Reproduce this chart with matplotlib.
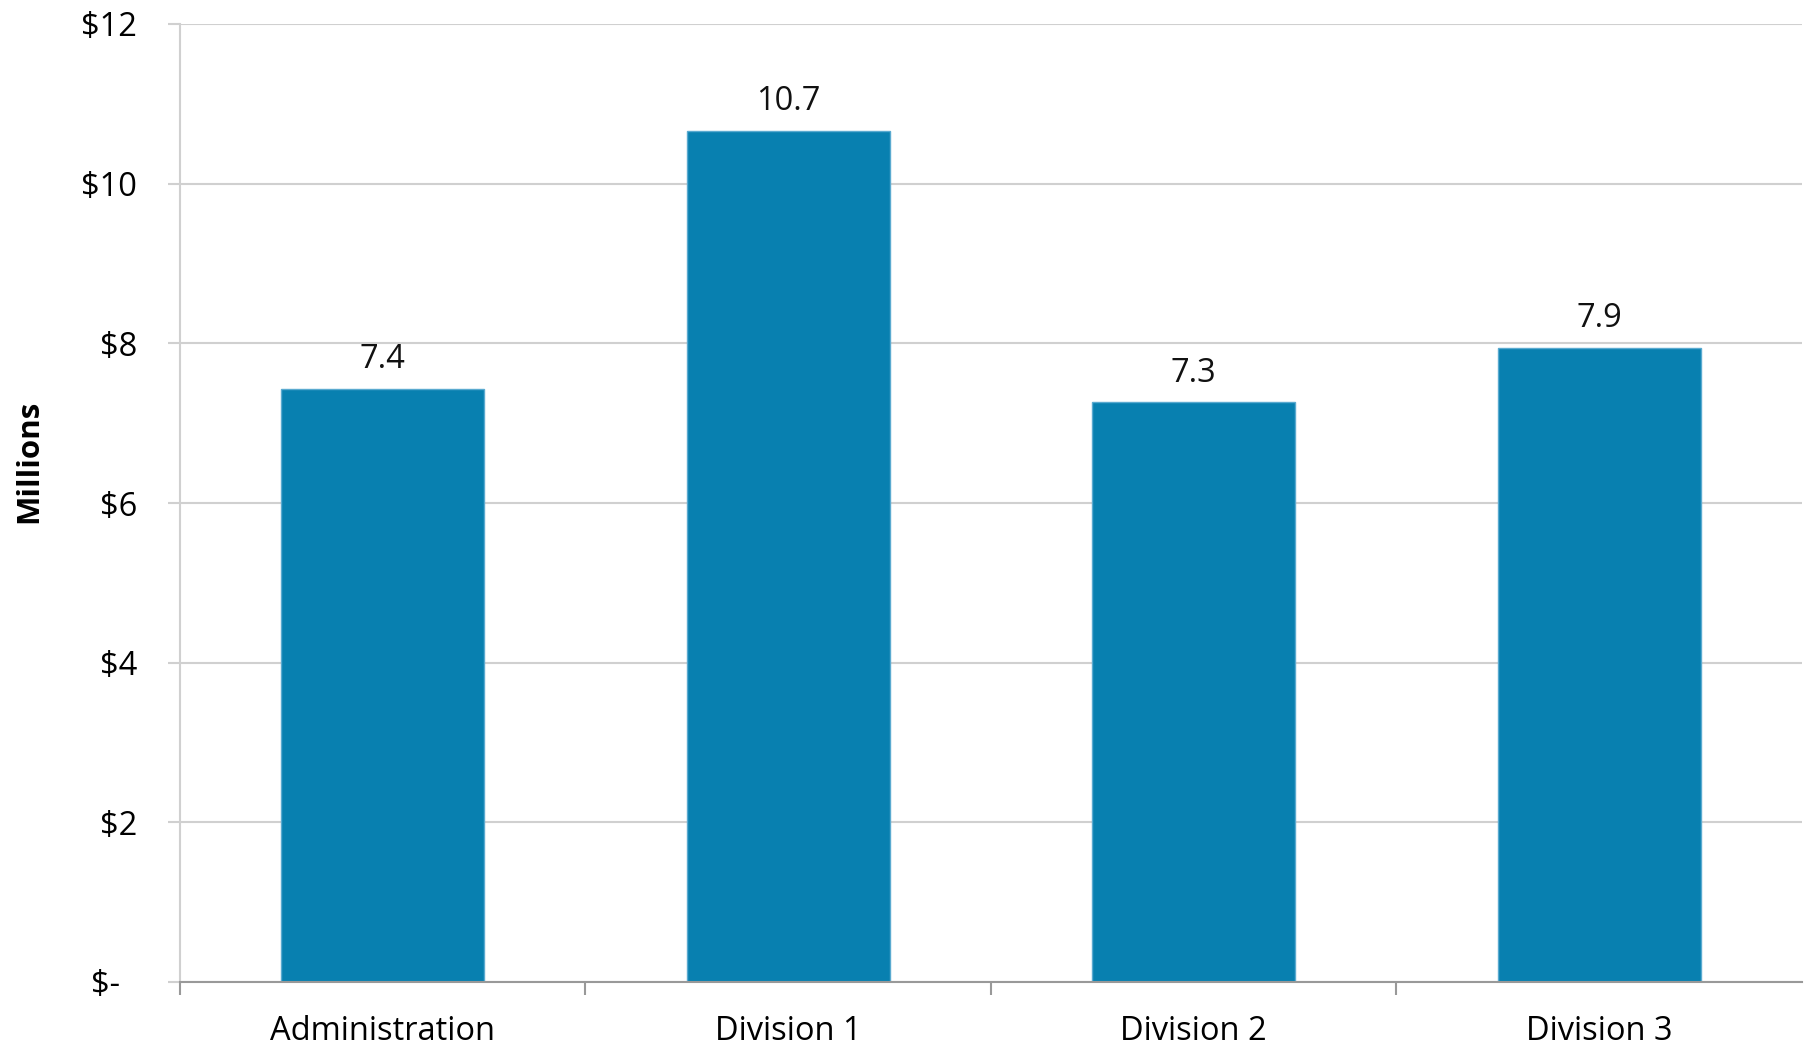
import matplotlib.pyplot as plt
from matplotlib.ticker import FixedLocator

categories = ["Administration", "Division 1", "Division 2", "Division 3"]
values = [7.43, 10.66, 7.26, 7.94]
labels = ["7.4", "10.7", "7.3", "7.9"]
yticks = [0, 2, 4, 6, 8, 10, 12]
ytick_labels = ["$-  ", "$2", "$4", "$6", "$8", "$10", "$12"]

plt.rcParams['font.family'] = ['Open Sans', 'DejaVu Sans']

fig = plt.figure(figsize=(18.08, 10.48), dpi=100)
ax = fig.add_axes([180 / 1808, 1 - 982 / 1048, (1802 - 180) / 1808, (982 - 24) / 1048])

x = range(len(categories))
ax.bar(x, values, width=0.5, color="#0880B0", edgecolor="#5AAAD0", linewidth=1.0, zorder=3)

for i, v in enumerate(values):
    ax.annotate(labels[i], (i, v), xytext=(0, 21), textcoords="offset points",
                ha="center", va="center", fontsize=23.5, color="#111111")

ax.set_xlim(-0.5, 3.5)
ax.set_ylim(0, 12)
ax.set_yticks(yticks)
ax.set_yticklabels(ytick_labels)
ax.set_xticks(list(x))
ax.set_xticklabels(categories)
ax.xaxis.set_minor_locator(FixedLocator([-0.5, 0.5, 1.5, 2.5]))

ax.tick_params(axis="x", which="major", length=0, pad=24, labelsize=23.5)
ax.tick_params(axis="x", which="minor", length=9, width=1.5, color="#999999")
ax.tick_params(axis="y", length=9, width=1.5, color="#d0d0d0", pad=22, labelsize=23.5)

ax.grid(axis="y", color="#d0d0d0", linewidth=1.5, zorder=0)
for s in ["top", "right"]:
    ax.spines[s].set_visible(False)
ax.spines["left"].set_color("#d0d0d0")
ax.spines["left"].set_linewidth(1.5)
ax.spines["bottom"].set_color("#999999")
ax.spines["bottom"].set_linewidth(1.5)
ax.spines["bottom"].set_zorder(4)

fig.text(29 / 1808, 1 - 461 / 1048, "Millions", rotation=90, ha="center", va="center",
         fontsize=22.5, fontweight="bold")

fig.savefig("out.png", dpi=100)
